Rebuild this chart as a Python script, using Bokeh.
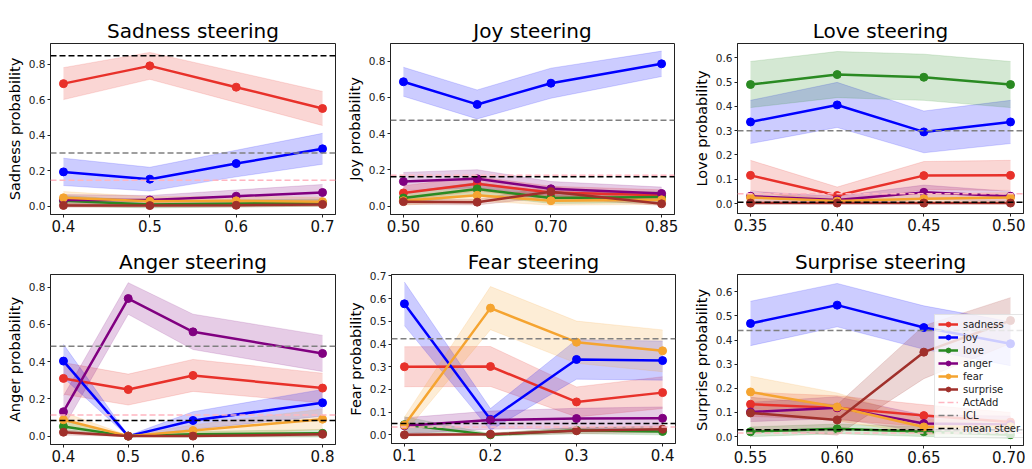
import numpy as np
from bokeh.plotting import figure
from bokeh.layouts import row, column
from bokeh.models import Range1d, FixedTicker, Span, Legend, LegendItem
from bokeh.embed import file_html
from bokeh.resources import INLINE

# ---------------- data ----------------
emotions = ["sadness", "joy", "love", "anger", "fear", "surprise"]
ref_names = ["ActAdd", "ICL", "mean steer"]

# Sadness steering
sad_x = [0.4, 0.5, 0.6, 0.7]
sad_xlabels = ["0.4", "0.5", "0.6", "0.7"]
sad_means = [[0.69, 0.79, 0.67, 0.55],
             [0.193, 0.152, 0.24, 0.323],
             [0.03, 0.01, 0.015, 0.02],
             [0.035, 0.035, 0.056, 0.077],
             [0.047, 0.028, 0.03, 0.025],
             [0.004, 0.003, 0.005, 0.01]]
sad_errs = [[0.09, 0.076, 0.086, 0.096],
            [0.077, 0.067, 0.075, 0.087],
            [0.03, 0.02, 0.02, 0.02],
            [0.03, 0.025, 0.035, 0.045],
            [0.035, 0.025, 0.025, 0.025],
            [0.01, 0.008, 0.01, 0.01]]
sad_refs = [0.146, 0.30, 0.847]

# Joy steering
joy_x = [0.50, 0.60, 0.70, 0.85]
joy_xlabels = ["0.50", "0.60", "0.70", "0.85"]
joy_means = [[0.073, 0.123, 0.075, 0.06],
             [0.686, 0.561, 0.678, 0.785],
             [0.045, 0.095, 0.045, 0.05],
             [0.136, 0.151, 0.096, 0.07],
             [0.03, 0.06, 0.03, 0.035],
             [0.025, 0.022, 0.08, 0.013]]
joy_errs = [[0.04, 0.04, 0.035, 0.03],
            [0.08, 0.08, 0.083, 0.07],
            [0.03, 0.035, 0.03, 0.03],
            [0.05, 0.05, 0.04, 0.035],
            [0.025, 0.03, 0.025, 0.025],
            [0.015, 0.015, 0.03, 0.01]]
joy_refs = [0.171, 0.474, 0.162]

# Love steering
love_x = [0.35, 0.40, 0.45, 0.50]
love_xlabels = ["0.35", "0.40", "0.45", "0.50"]
love_means = [[0.116, 0.033, 0.115, 0.116],
              [0.336, 0.406, 0.295, 0.336],
              [0.49, 0.531, 0.52, 0.49],
              [0.03, 0.015, 0.046, 0.03],
              [0.025, 0.01, 0.02, 0.025],
              [0.002, 0.002, 0.002, 0.002]]
love_errs = [[0.062, 0.035, 0.058, 0.062],
             [0.089, 0.093, 0.086, 0.089],
             [0.095, 0.095, 0.095, 0.095],
             [0.02, 0.015, 0.03, 0.02],
             [0.02, 0.01, 0.02, 0.02],
             [0.003, 0.003, 0.003, 0.003]]
love_refs = [0.04, 0.30, 0.005]

# Anger steering
anger_x = [0.4, 0.5, 0.6, 0.8]
anger_xlabels = ["0.4", "0.5", "0.6", "0.8"]
anger_means = [[0.31, 0.25, 0.326, 0.258],
               [0.403, 0.0, 0.084, 0.179],
               [0.052, 0.0, 0.01, 0.015],
               [0.131, 0.739, 0.56, 0.444],
               [0.088, 0.0, 0.03, 0.091],
               [0.021, 0.0, 0.0, 0.01]]
anger_errs = [[0.085, 0.083, 0.086, 0.08],
              [0.09, 0.003, 0.047, 0.072],
              [0.03, 0.003, 0.015, 0.02],
              [0.085, 0.085, 0.095, 0.097],
              [0.04, 0.003, 0.03, 0.055],
              [0.015, 0.002, 0.003, 0.01]]
anger_refs = [0.113, 0.483, 0.084]

# Fear steering
fear_x = [0.1, 0.2, 0.3, 0.4]
fear_xlabels = ["0.1", "0.2", "0.3", "0.4"]
fear_means = [[0.30, 0.301, 0.145, 0.186],
              [0.577, 0.068, 0.332, 0.327],
              [0.045, 0.0, 0.02, 0.015],
              [0.04, 0.065, 0.072, 0.073],
              [0.043, 0.558, 0.408, 0.37],
              [0.0, 0.003, 0.018, 0.025]]
fear_errs = [[0.088, 0.088, 0.066, 0.07],
             [0.096, 0.048, 0.087, 0.086],
             [0.035, 0.005, 0.015, 0.015],
             [0.035, 0.04, 0.045, 0.05],
             [0.035, 0.095, 0.093, 0.092],
             [0.005, 0.005, 0.012, 0.015]]
fear_refs = [0.035, 0.423, 0.05]

# Surprise steering
surp_x = [0.55, 0.60, 0.65, 0.70]
surp_xlabels = ["0.55", "0.60", "0.65", "0.70"]
surp_means = [[0.134, 0.119, 0.087, 0.06],
              [0.469, 0.545, 0.452, 0.385],
              [0.02, 0.032, 0.02, 0.008],
              [0.102, 0.12, 0.054, 0.05],
              [0.185, 0.123, 0.04, 0.041],
              [0.098, 0.069, 0.35, 0.481]]
surp_errs = [[0.05, 0.05, 0.045, 0.04],
             [0.092, 0.09, 0.09, 0.091],
             [0.02, 0.02, 0.02, 0.015],
             [0.04, 0.045, 0.035, 0.035],
             [0.065, 0.058, 0.03, 0.03],
             [0.065, 0.063, 0.11, 0.095]]
surp_refs = [0.015, 0.44, 0.028]

# ---------------- style / layout ----------------
colors = ["#e8312a", "#0000ff", "#2a8a22", "#800080", "#f5a430", "#a0302b"]
ref_colors = ["#ffb6c1", "#808080", "#000000"]
FONT = "DejaVu Sans"

# frame size and borders (top, right, bottom, left)
panels = [
    dict(title="Sadness steering", ylabel="Sadness probability", x=sad_x, xl=sad_xlabels,
         m=sad_means, e=sad_errs, r=sad_refs, yr=(-0.047, 0.916), yt=[0, 0.2, 0.4, 0.6, 0.8],
         fw=285, fh=171, b=(43, 8, 24, 50)),
    dict(title="Joy steering", ylabel="Joy probability", x=joy_x, xl=joy_xlabels,
         m=joy_means, e=joy_errs, r=joy_refs, yr=(-0.046, 0.897), yt=[0, 0.2, 0.4, 0.6, 0.8],
         fw=284, fh=171, b=(43, 16, 24, 47)),
    dict(title="Love steering", ylabel="Love probability", x=love_x, xl=love_xlabels,
         m=love_means, e=love_errs, r=love_refs, yr=(-0.041, 0.659),
         yt=[0, 0.1, 0.2, 0.3, 0.4, 0.5, 0.6], fw=286, fh=170, b=(32, 2, 36, 47)),
    dict(title="Anger steering", ylabel="Anger probability", x=anger_x, xl=anger_xlabels,
         m=anger_means, e=anger_errs, r=anger_refs, yr=(-0.045, 0.868), yt=[0, 0.2, 0.4, 0.6, 0.8],
         fw=285, fh=170, b=(35, 9, 24, 50)),
    dict(title="Fear steering", ylabel="Fear probability", x=fear_x, xl=fear_xlabels,
         m=fear_means, e=fear_errs, r=fear_refs, yr=(-0.038, 0.706),
         yt=[0, 0.1, 0.2, 0.3, 0.4, 0.5, 0.6, 0.7], fw=284, fh=169, b=(36, 15, 24, 47)),
    dict(title="Surprise steering", ylabel="Surprise probability", x=surp_x, xl=surp_xlabels,
         m=surp_means, e=surp_errs, r=surp_refs, yr=(-0.037, 0.672),
         yt=[0, 0.1, 0.2, 0.3, 0.4, 0.5, 0.6], fw=286, fh=171, b=(35, 2, 23, 47),
         legend=True),
]


def make_panel(d):
    x = np.array(d["x"], dtype=float)
    span = x.max() - x.min()
    top, right, bottom, left = d["b"]
    p = figure(frame_width=d["fw"], frame_height=d["fh"], output_backend="svg",
               toolbar_location=None,
               x_range=Range1d(x.min() - 0.05 * span, x.max() + 0.05 * span),
               y_range=Range1d(*d["yr"]),
               min_border_top=top, min_border_right=right,
               min_border_bottom=bottom, min_border_left=left)
    p.title.text = d["title"]
    p.title.text_font = FONT
    p.title.text_font_size = "20px"
    p.title.text_font_style = "normal"
    p.title.text_color = "#000000"
    p.title.align = "center"
    p.title.standoff = 2
    p.xgrid.visible = False
    p.ygrid.visible = False
    p.outline_line_color = "#222222"
    p.outline_line_width = 1
    p.background_fill_color = "white"
    p.border_fill_color = "white"

    p.xaxis.ticker = FixedTicker(ticks=list(x))
    p.xaxis.major_label_overrides = {float(v): s for v, s in zip(x, d["xl"])}
    p.yaxis.ticker = FixedTicker(ticks=d["yt"])
    p.yaxis.major_label_overrides = {float(v): "%.1f" % v for v in d["yt"]}
    p.yaxis.axis_label = d["ylabel"]
    for ax in (p.xaxis[0], p.yaxis[0]):
        ax.axis_line_color = "#222222"
        ax.major_tick_line_color = "#222222"
        ax.major_tick_out = 3
        ax.major_tick_in = 0
        ax.minor_tick_line_color = None
        ax.major_label_text_font = FONT
        ax.axis_label_text_font = FONT
        ax.axis_label_text_font_style = "normal"
        ax.axis_label_text_color = "#000000"
        ax.major_label_standoff = 2
    p.xaxis.axis_label_standoff = 0
    p.xaxis.major_label_text_font_size = "15px"
    p.yaxis.major_label_text_font_size = "10.5px"
    p.yaxis.axis_label_text_font_size = "14.5px"
    p.yaxis.axis_label_standoff = 3
    p.xaxis.major_label_text_color = "#111111"
    p.yaxis.major_label_text_color = "#222222"

    items = []
    for i, name in enumerate(emotions):
        mean = np.array(d["m"][i])
        err = np.array(d["e"][i])
        c = colors[i]
        p.varea(x=x, y1=mean - err, y2=mean + err, fill_color=c, fill_alpha=0.2)
        p.line(x, mean - err, line_color=c, line_alpha=0.15, line_width=1)
        p.line(x, mean + err, line_color=c, line_alpha=0.15, line_width=1)
    for i, name in enumerate(emotions):
        mean = np.array(d["m"][i])
        c = colors[i]
        lr = p.line(x, mean, line_color=c, line_width=2.5)
        sr = p.scatter(x, mean, size=8, fill_color=c, line_color=c)
        items.append(LegendItem(label=name, renderers=[lr, sr]))
    for j, val in enumerate(d["r"]):
        p.add_layout(Span(location=val, dimension="width", line_color=ref_colors[j],
                          line_dash="6 3", line_width=1.5))
        # single-point line: invisible in the plot, but gives the legend its dashed glyph
        key = p.line(x[:1], [val], line_color=ref_colors[j], line_dash="6 3", line_width=1.5)
        items.append(LegendItem(label=ref_names[j], renderers=[key]))

    if d.get("legend"):
        lg = Legend(items=items, location=(197, 7), label_text_font=FONT,
                    label_text_font_size="10px", glyph_height=12, glyph_width=20,
                    label_height=12, spacing=1, padding=3, margin=0, label_standoff=5,
                    border_line_color="#cccccc", background_fill_alpha=0.8,
                    label_text_color="#222222")
        p.add_layout(lg)
    return p


figs = [make_panel(d) for d in panels]
layout = column(row(*figs[:3], spacing=0), row(*figs[3:], spacing=0), spacing=0)

open("out.html", "w").write(file_html(layout, INLINE))
